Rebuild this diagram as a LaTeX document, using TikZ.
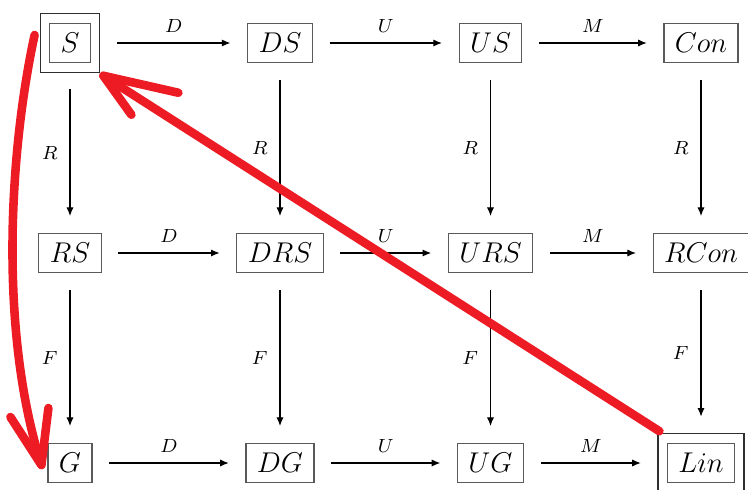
\documentclass[tikz,border=0pt]{standalone}
\usepackage{amsmath,amssymb}
\usepackage{tikz}
\usetikzlibrary{arrows.meta,positioning,fit}
\definecolor{markred}{HTML}{ED1C24}
\definecolor{boxline}{HTML}{5A5A5A}
\definecolor{frameline}{HTML}{2E2E2E}
\tikzset{
  objnode/.style={draw=boxline,line width=0.5pt,minimum height=16.6pt,inner xsep=4.6pt,inner ysep=0pt,font=\large},
  framenode/.style={draw=frameline,line width=0.5pt,inner sep=3.7pt},
  maparrow/.style={-{Latex[length=3.6pt,width=3pt]},line width=0.45pt,shorten <=7pt,shorten >=7pt},
  maplabel/.style={font=\footnotesize,inner sep=0pt},
  markstroke/.style={markred,line width=3.6pt,line cap=round,line join=round}
}

\begin{document}
\begin{tikzpicture}[x=0.42pt,y=-0.42pt]
  \clip (0,0) rectangle (748,489);

  % Top row
  \node[objnode] (S) at (70,43) {$S$};
  \node[objnode] (DS) at (280,43) {$DS$};
  \node[objnode] (US) at (490.5,43) {$US$};
  \node[objnode] (Con) at (701,43) {$Con$};
  \node[framenode,fit=(S)] (Sframe) {};

  % Middle row
  \node[objnode] (RS) at (70,253) {$RS$};
  \node[objnode] (DRS) at (280,253) {$DRS$};
  \node[objnode] (URS) at (490.5,253) {$URS$};
  \node[objnode] (RCon) at (701,253) {$RCon$};

  % Bottom row
  \node[objnode] (G) at (70,463) {$G$};
  \node[objnode] (DG) at (280,463) {$DG$};
  \node[objnode] (UG) at (490.5,463) {$UG$};
  \node[objnode] (Lin) at (701,463) {$Lin$};
  \node[framenode,fit=(Lin)] (Linframe) {};

  \draw[maparrow] (Sframe) -- node[maplabel,above=4pt] {$D$} (DS);
  \draw[maparrow] (DS) -- node[maplabel,above=4pt] {$U$} (US);
  \draw[maparrow] (US) -- node[maplabel,above=4pt] {$M$} (Con);
  \draw[maparrow] (RS) -- node[maplabel,above=4pt] {$D$} (DRS);
  \draw[maparrow] (DRS) -- node[maplabel,above=4pt] {$U$} (URS);
  \draw[maparrow] (URS) -- node[maplabel,above=4pt] {$M$} (RCon);
  \draw[maparrow] (G) -- node[maplabel,above=4pt] {$D$} (DG);
  \draw[maparrow] (DG) -- node[maplabel,above=4pt] {$U$} (UG);
  \draw[maparrow] (UG) -- node[maplabel,above=4pt] {$M$} (Linframe);

  \draw[maparrow] (Sframe) -- node[maplabel,left=5pt] {$R$} (RS);
  \draw[maparrow] (DS) -- node[maplabel,left=5pt] {$R$} (DRS);
  \draw[maparrow] (US) -- node[maplabel,left=5pt] {$R$} (URS);
  \draw[maparrow] (Con) -- node[maplabel,left=5pt] {$R$} (RCon);
  \draw[maparrow] (RS) -- node[maplabel,left=5pt] {$F$} (G);
  \draw[maparrow] (DRS) -- node[maplabel,left=5pt] {$F$} (DG);
  \draw[maparrow] (URS) -- node[maplabel,left=5pt] {$F$} (UG);
  \draw[maparrow] (RCon) -- node[maplabel,left=5pt] {$F$} (Linframe);

  % red marks
  \coordinate (startS) at ([shift={(-5,-8)}]Sframe.west);
  \coordinate (tipG) at ([shift={(-6,2)}]G.west);
  \coordinate (tipS) at ([shift={(3,3)}]Sframe.south east);
  \draw[markstroke] (startS) .. controls +(-25,115) and +(-43,-135) .. (tipG);
  \draw[markstroke] ([shift={(-31,-48)}]tipG) -- (tipG) -- ([shift={(7,-57)}]tipG);
  \draw[markstroke] ([shift={(2,-2)}]Linframe.north west) -- (tipS);
  \draw[markstroke] ([shift={(75,17)}]tipS) -- (tipS) -- ([shift={(28,39)}]tipS);
\end{tikzpicture}
\end{document}
